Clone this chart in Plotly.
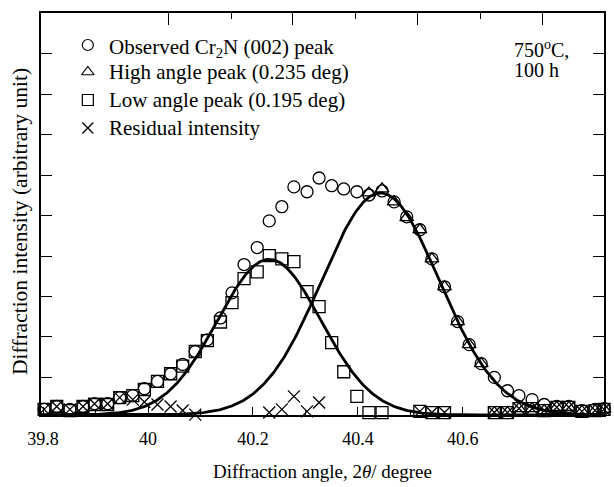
import numpy as np
import plotly.graph_objects as go

# ---------------- data ----------------
X_DEG = [39.802, 39.826, 39.851, 39.876, 39.898, 39.923, 39.946, 39.971, 39.993, 40.018,
         40.043, 40.066, 40.090, 40.113, 40.138, 40.160, 40.183, 40.208, 40.231, 40.255,
         40.278, 40.303, 40.326, 40.350, 40.373, 40.398, 40.421, 40.446, 40.469, 40.493,
         40.518, 40.541, 40.565, 40.590, 40.612, 40.635, 40.660, 40.685, 40.707, 40.732,
         40.755, 40.779, 40.802, 40.827, 40.852, 40.869]

OBSERVED = [0.14, 0.21, 0.14, 0.21, 0.28, 0.28, 0.43, 0.48, 0.65, 0.83,
            1.02, 1.25, 1.57, 1.86, 2.40, 3.02, 3.72, 4.14, 4.80, 5.15,
            5.64, 5.52, 5.86, 5.67, 5.59, 5.52, 5.44, 5.54, 5.27, 4.90,
            4.58, 3.86, 3.17, 2.31, 1.74, 1.27, 0.93, 0.60, 0.48, 0.38,
            0.26, 0.21, 0.21, 0.11, 0.14, 0.16]

HIGH_PEAK = [None] * 26 + [5.49, 5.59, 5.27, 4.88, 4.58, 3.86, 3.17, 2.31, 1.74, 1.27,
                           0.06, 0.06, 0.16, 0.16, 0.11, 0.19, 0.19, 0.09, 0.11, 0.14]

LOW_PEAK = [0.14, 0.21, 0.11, 0.21, 0.26, 0.26, 0.43, 0.48, 0.63, 0.83,
            1.02, 1.21, 1.57, 1.84, 2.30, 2.78, 3.37, 3.54, 3.94, 3.86,
            3.79, 3.05, 2.68, 1.79, 1.07, 0.46, 0.06, 0.06, None, None,
            0.09, 0.06, 0.06, None, None, None, 0.06, 0.06, 0.16, 0.16,
            0.11, 0.19, 0.19, 0.09, 0.11, 0.14]

RESIDUAL = [0.14, 0.21, 0.14, 0.21, 0.28, 0.28, 0.43, 0.38, 0.32, 0.26,
            0.21, 0.11, 0.01, None, None, None, None, None, 0.06, 0.14,
            0.46, 0.09, 0.31, None, None, None, None, None, None, None,
            0.09, 0.06, 0.06, None, None, None, 0.06, 0.06, 0.16, 0.16,
            0.11, 0.19, 0.19, 0.09, 0.11, 0.14]

# fitted Gaussian profiles (centre, height, sigma in degrees)
LOW_FIT = dict(center=40.231, height=3.85, sigma=0.0987)
HIGH_FIT = dict(center=40.443, height=5.49, sigma=0.112)

SERIES_NAMES = ["Observed Cr<sub>2</sub>N (002) peak", "High angle peak (0.235 deg)",
                "Low angle peak (0.195 deg)", "Residual intensity"]
CONDITION_LINES = ["750<sup>o</sup>C,", "100 h"]
X_TITLE = "Diffraction angle, 2<i>θ</i>/ degree"
Y_TITLE = "Diffraction intensity (arbitrary unit)"

X_TICKS = [39.8, 40.0, 40.2, 40.4, 40.6]
X_TICKTEXT = ["39.8", "40", "40.2", "40.4", "40.6"]
X_MINOR = [39.9, 40.1, 40.3, 40.5, 40.7]
TOP_MAJOR = [40.039, 40.276, 40.514, 40.751]
TOP_MINOR = [40.159, 40.396, 40.633]
Y_TICKS = [0.93, 1.93, 2.93, 3.93, 4.93, 5.93, 6.93, 7.93, 8.93]

X_RANGE = [39.796, 40.869]
Y_RANGE = [0, 9.94]

FONT = "Liberation Serif"
SYMBOLS = ["circle-open", "triangle-up-open", "square-open", "x-thin-open"]

# ---------------- figure ----------------
fig = go.Figure()

xs = np.linspace(X_RANGE[0], X_RANGE[1], 500)
for p in (LOW_FIT, HIGH_FIT):
    ys = p["height"] * np.exp(-((xs - p["center"]) ** 2) / (2 * p["sigma"] ** 2))
    fig.add_trace(go.Scatter(x=xs, y=ys, mode="lines",
                             line=dict(color="black", width=2.8),
                             showlegend=False, hoverinfo="skip"))

for name, vals, sym in zip(SERIES_NAMES, [OBSERVED, HIGH_PEAK, LOW_PEAK, RESIDUAL], SYMBOLS):
    fig.add_trace(go.Scatter(
        x=X_DEG, y=vals, mode="markers", name=name, cliponaxis=False, showlegend=False,
        marker=dict(symbol=sym, size=12, color="black",
                    line=dict(color="black", width=1.3)),
    ))

# invisible trace to carry the top axis
fig.add_trace(go.Scatter(x=[40.3], y=[1], xaxis="x2", mode="markers",
                         marker=dict(opacity=0), showlegend=False, hoverinfo="skip"))

# hand-drawn legend keys on an overlay frame measured in pixels
# (x3: 41..606 px left->right, y3: 415..13 px bottom->top)
leg_x_sym, leg_x_txt = 88, 107
leg_rows = [45, 72, 100, 128]
fig.add_trace(go.Scatter(
    x=[leg_x_sym] * 4, y=leg_rows, xaxis="x3", yaxis="y3", mode="markers",
    cliponaxis=False, showlegend=False, hoverinfo="skip",
    marker=dict(symbol=SYMBOLS, size=11, color="black",
                line=dict(color="black", width=1.2)),
))

annotations = []
row_shift = [2.5, 0, 0, 0]
for name, yy, sh in zip(SERIES_NAMES, leg_rows, row_shift):
    annotations.append(dict(text=name, xref="x3", yref="y3", x=leg_x_txt, y=yy + sh,
                            xanchor="left", yanchor="middle", showarrow=False,
                            font=dict(size=21, family=FONT)))
annotations.append(dict(text=CONDITION_LINES[0], xref="x3", yref="y3", x=514, y=49,
                        xanchor="left", yanchor="middle", showarrow=False,
                        font=dict(size=20, family=FONT)))
annotations.append(dict(text=CONDITION_LINES[1], xref="x3", yref="y3", x=514, y=70,
                        xanchor="left", yanchor="middle", showarrow=False,
                        font=dict(size=20, family=FONT)))
# y-axis title, placed where the reference has it
annotations.append(dict(text=Y_TITLE, xref="paper", yref="y3", x=0, xshift=-21, y=222,
                        xanchor="center", yanchor="middle", textangle=-90,
                        showarrow=False, font=dict(size=21.5, family=FONT)))

fig.update_layout(
    width=614, height=487,
    margin=dict(l=41, r=8, t=13, b=72),
    plot_bgcolor="white", paper_bgcolor="white",
    font=dict(family=FONT, color="black", size=19),
    showlegend=False,
    xaxis=dict(
        range=X_RANGE, tickmode="array", tickvals=X_TICKS, ticktext=X_TICKTEXT,
        ticks="inside", ticklen=8, tickwidth=1.3, tickcolor="black",
        minor=dict(tickmode="array", tickvals=X_MINOR, ticks="inside", ticklen=5,
                   tickwidth=1.3, tickcolor="black"),
        showline=True, linecolor="black", linewidth=1.5, mirror=True,
        showgrid=False, zeroline=False, tickfont=dict(size=18),
        ticklabelstandoff=7,
        title=dict(text=X_TITLE, standoff=16, font=dict(size=19)),
    ),
    xaxis2=dict(
        overlaying="x", side="top", range=X_RANGE, tickmode="array",
        tickvals=TOP_MAJOR, ticks="inside", ticklen=12, tickwidth=1.3, tickcolor="black",
        minor=dict(tickmode="array", tickvals=TOP_MINOR, ticks="inside", ticklen=6,
                   tickwidth=1.3, tickcolor="black"),
        showticklabels=False, showline=False, showgrid=False, zeroline=False,
    ),
    xaxis3=dict(overlaying="x", range=[41, 606], visible=False),
    yaxis3=dict(overlaying="y", range=[415, 13], visible=False),
    yaxis=dict(
        range=Y_RANGE, tickmode="array", tickvals=Y_TICKS, showticklabels=False,
        ticks="inside", ticklen=11, tickwidth=1.3, tickcolor="black",
        showline=True, linecolor="black", linewidth=1.5, mirror="ticks",
        showgrid=False, zeroline=False,
    ),
    annotations=annotations,
)

fig.write_html("out.html")
